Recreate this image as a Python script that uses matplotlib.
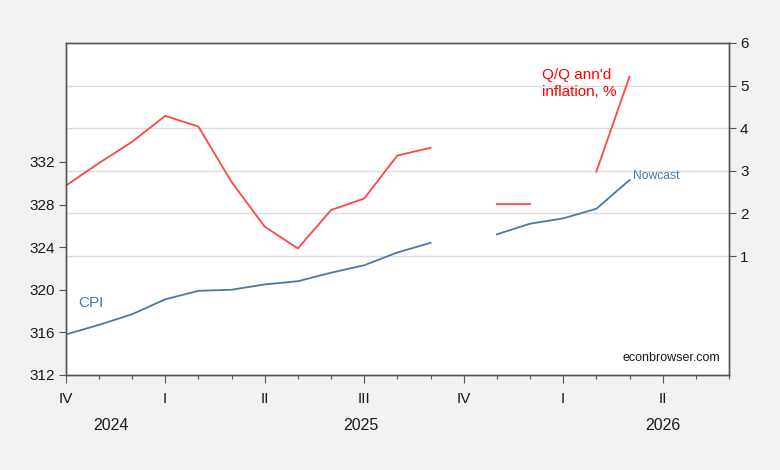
import numpy as np
import matplotlib
matplotlib.use("Agg")
import matplotlib.pyplot as plt
from matplotlib.transforms import blended_transform_factory

plt.rcParams['font.family'] = ['Liberation Sans', 'DejaVu Sans']

# Monthly index: 0 = Oct 2024 ... 17 = Mar 2026; axis runs to Jun 2026 (20)
months = list(range(18))
cpi = [315.8, 316.7, 317.7, 319.1, 319.9, 320.0, 320.5, 320.8, 321.6, 322.3,
       323.5, 324.4, np.nan, 325.2, 326.2, 326.7, 327.6, 330.3]
qq_infl = [2.65, 3.18, 3.68, 4.29, 4.04, 2.74, 1.69, 1.18, 2.08, 2.35,
           3.36, 3.54, np.nan, 2.22, 2.22, np.nan, 2.98, 5.21]

quarter_pos = [0, 3, 6, 9, 12, 15, 18]
quarter_labels = ["IV", "I", "II", "III", "IV", "I", "II"]
year_pos = [1.35, 8.9, 18.0]
year_labels = ["2024", "2025", "2026"]

BG = '#f2f2f2'
BLUE = '#4a78a8'
RED = '#ff4545'
TXT = '#1a1a1a'

fig = plt.figure(figsize=(7.8, 4.7), dpi=100, facecolor=BG)
ax2 = fig.add_axes([65.7/780, 1-375/470, (729-65.7)/780, (375-43)/470])
ax = ax2.twinx()
ax.set_zorder(ax2.get_zorder() + 1)
ax.patch.set_visible(False)
ax2.set_facecolor('white')

# Right axis (inflation)
ax2.plot(months, qq_infl, color=RED, lw=1.3)
ax2.set_ylim(-1.79, 6)
ax2.set_yticks([1, 2, 3, 4, 5, 6])
ax2.yaxis.tick_right()
ax2.yaxis.set_label_position('right')
for v in [1, 2, 3, 4, 5]:
    ax2.axhline(v, color='#dcdcdc', lw=1.0, zorder=0)

# Left axis (CPI)
ax.plot(months, cpi, color=BLUE, lw=1.3)
ax.set_ylim(312, 312 + 4 * (6 + 1.79))
ax.set_yticks([312, 316, 320, 324, 328, 332])
ax.yaxis.tick_left()
ax.yaxis.set_label_position('left')

ax2.set_xlim(0, 20)
for a in (ax, ax2):
    for s in a.spines.values():
        s.set_color('#555555')
        s.set_linewidth(1.0)
    a.tick_params(axis='y', direction='out', length=5, width=0.8, color='#555555',
                  labelsize=11, labelcolor=TXT, pad=3)

ax2.set_xticks(quarter_pos)
ax2.set_xticklabels(quarter_labels)
ax2.set_xticks(range(0, 21), minor=True)
ax2.tick_params(axis='x', which='major', direction='out', length=6, width=0.8,
                color='#555555', labelsize=11, labelcolor=TXT, pad=6)
ax2.tick_params(axis='x', which='minor', direction='out', length=3, width=0.8,
                color='#555555')

trans = blended_transform_factory(ax2.transData, ax2.transAxes)
for xp, lab in zip(year_pos, year_labels):
    ax2.text(xp, -0.1536, lab, transform=trans, ha='center', va='center',
             fontsize=11.5, color=TXT)

# Annotations
ax.text(0.37, 318.75, "CPI", color=BLUE, fontsize=11, ha='left', va='center')
ax.text(17.11, 330.65, "Nowcast", color=BLUE, fontsize=8.7, ha='left', va='center')
ax2.text(14.36, 5.41, "Q/Q ann'd\ninflation, %", color='#ff0000', fontsize=11,
         ha='left', va='top', linespacing=1.3)
ax.text(19.74, 313.6, "econbrowser.com", color=TXT, fontsize=9.0,
        ha='right', va='center')

fig.savefig("out.png", dpi=100, facecolor=BG)
